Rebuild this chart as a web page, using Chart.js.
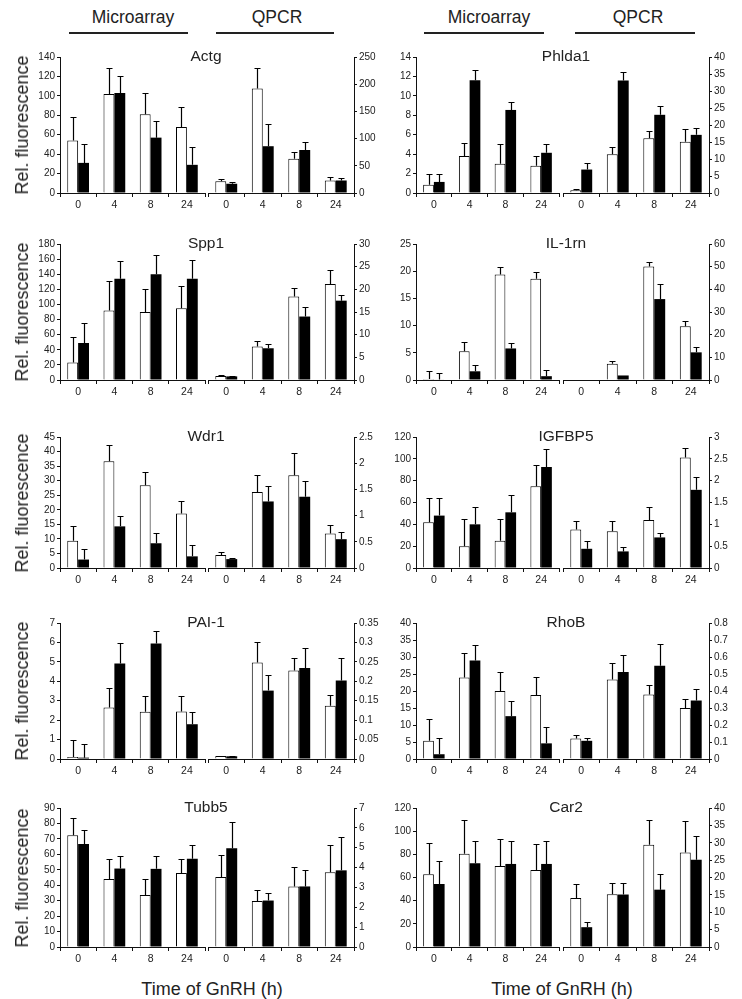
<!DOCTYPE html>
<html><head><meta charset="utf-8">
<script src="https://cdn.jsdelivr.net/npm/chart.js@4.4.1/dist/chart.umd.min.js"></script>
<style>
html,body{margin:0;padding:0;background:#fff;}
body{width:742px;height:999px;position:relative;overflow:hidden;font-family:"Liberation Sans", Arial, sans-serif;color:#222;}
.lbl{position:absolute;white-space:nowrap;transform:translate(-50%,-50%);line-height:1;}
.rot{position:absolute;white-space:nowrap;transform:translate(-50%,-50%) rotate(-90deg);line-height:1;}
.rule{position:absolute;height:2px;background:#222;}
canvas{position:absolute;}
</style></head><body>
<script>
// ---------------- DATA ----------------
const times = ['0', '4', '8', '24'];

// Actg
const actgMicroWhite = [54, 102, 81, 68];
const actgMicroWhiteErr = [24, 27, 22, 21];
const actgMicroBlack = [31, 103, 57, 29];
const actgMicroBlackErr = [19, 17, 17.5, 18];
const actgQpcrWhite = [21.5, 192, 63, 23];
const actgQpcrWhiteErr = [5, 37, 12, 6];
const actgQpcrBlack = [17, 86, 79, 23];
const actgQpcrBlackErr = [2.5, 40, 14, 5];
const actgMicroTicks = [0, 20, 40, 60, 80, 100, 120, 140];
const actgQpcrTicks = [0, 50, 100, 150, 200, 250];

// Phlda1
const phldaMicroWhite = [0.86, 3.8, 3.0, 2.8];
const phldaMicroWhiteErr = [1.14, 1.3, 2.0, 1.03];
const phldaMicroBlack = [1.14, 11.6, 8.55, 4.14];
const phldaMicroBlackErr = [0.86, 1.1, 0.83, 0.86];
const phldaQpcrWhite = [0.8, 11.4, 16.1, 15.1];
const phldaQpcrWhiteErr = [0.3, 2, 2.2, 3.7];
const phldaQpcrBlack = [6.9, 33.1, 23.0, 17.1];
const phldaQpcrBlackErr = [2, 2.6, 2.7, 1.9];
const phldaMicroTicks = [0, 2, 4, 6, 8, 10, 12, 14];
const phldaQpcrTicks = [0, 5, 10, 15, 20, 25, 30, 35, 40];

// Spp1
const sppMicroWhite = [23, 92, 90, 95];
const sppMicroWhiteErr = [34, 39, 30.5, 29.6];
const sppMicroBlack = [49, 134, 140, 134];
const sppMicroBlackErr = [26.5, 24, 25.7, 25];
const sppQpcrWhite = [0.9, 7.4, 18.4, 21.2];
const sppQpcrWhiteErr = [0.1, 1.25, 1.85, 3.0];
const sppQpcrBlack = [0.8, 7.0, 14.0, 17.5];
const sppQpcrBlackErr = [0.1, 0.9, 2.2, 1.25];
const sppMicroTicks = [0, 20, 40, 60, 80, 100, 120, 140, 160, 180];
const sppQpcrTicks = [0, 5, 10, 15, 20, 25, 30];

// IL-1rn
const il1MicroWhite = [0.2, 5.3, 19.4, 18.6];
const il1MicroWhiteErr = [1.4, 1.65, 1.35, 1.2];
const il1MicroBlack = [0.1, 1.6, 5.8, 0.7];
const il1MicroBlackErr = [1.2, 1.2, 1.0, 1.1];
const il1QpcrWhite = [0, 7.2, 50.1, 23.7];
const il1QpcrWhiteErr = [0, 1.0, 2.0, 2.2];
const il1QpcrBlack = [0, 2.0, 35.7, 12.2];
const il1QpcrBlackErr = [0, 0, 6.6, 2.5];
const il1MicroTicks = [0, 5, 10, 15, 20, 25];
const il1QpcrTicks = [0, 10, 20, 30, 40, 50, 60];

// Wdr1
const wdrMicroWhite = [9.4, 36.7, 28.4, 18.7];
const wdrMicroWhiteErr = [4.9, 5.7, 4.6, 4.3];
const wdrMicroBlack = [2.9, 14.3, 8.5, 4.0];
const wdrMicroBlackErr = [3.7, 3.5, 3.4, 3.8];
const wdrQpcrWhite = [0.25, 1.45, 1.77, 0.66];
const wdrQpcrWhiteErr = [0.06, 0.32, 0.43, 0.16];
const wdrQpcrBlack = [0.17, 1.27, 1.36, 0.55];
const wdrQpcrBlackErr = [0.03, 0.29, 0.3, 0.14];
const wdrMicroTicks = [0, 5, 10, 15, 20, 25, 30, 35, 40, 45];
const wdrQpcrTicks = [0, 0.5, 1, 1.5, 2, 2.5];

// IGFBP5
const igfMicroWhite = [42, 20, 25, 75];
const igfMicroWhiteErr = [22, 24.5, 20, 19];
const igfMicroBlack = [48, 40, 51, 92.5];
const igfMicroBlackErr = [16.5, 15.6, 15.6, 16.2];
const igfQpcrWhite = [0.88, 0.84, 1.1, 2.53];
const igfQpcrWhiteErr = [0.19, 0.23, 0.29, 0.21];
const igfQpcrBlack = [0.44, 0.38, 0.7, 1.79];
const igfQpcrBlackErr = [0.175, 0.09, 0.11, 0.29];
const igfMicroTicks = [0, 20, 40, 60, 80, 100, 120];
const igfQpcrTicks = [0, 0.5, 1, 1.5, 2, 2.5, 3];

// PAI-1
const paiMicroWhite = [0.1, 2.65, 2.43, 2.44];
const paiMicroWhiteErr = [0.88, 0.98, 0.79, 0.78];
const paiMicroBlack = [0.07, 4.92, 5.95, 1.79];
const paiMicroBlackErr = [0.7, 1.05, 0.62, 0.65];
const paiQpcrWhite = [0.008, 0.2485, 0.228, 0.137];
const paiQpcrWhiteErr = [0.001, 0.0525, 0.031, 0.0275];
const paiQpcrBlack = [0.007, 0.176, 0.234, 0.202];
const paiQpcrBlackErr = [0.001, 0.04, 0.052, 0.058];
const paiMicroTicks = [0, 1, 2, 3, 4, 5, 6, 7];
const paiQpcrTicks = [0, 0.05, 0.1, 0.15, 0.2, 0.25, 0.3, 0.35];

// RhoB
const rhobMicroWhite = [5.4, 24.0, 20.0, 18.8];
const rhobMicroWhiteErr = [6.4, 7.3, 5.6, 5.4];
const rhobMicroBlack = [1.4, 29.0, 12.6, 4.6];
const rhobMicroBlackErr = [4.9, 4.5, 4.6, 4.7];
const rhobQpcrWhite = [0.12, 0.468, 0.379, 0.30];
const rhobQpcrWhiteErr = [0.02, 0.095, 0.059, 0.055];
const rhobQpcrBlack = [0.107, 0.512, 0.549, 0.344];
const rhobQpcrBlackErr = [0.016, 0.1, 0.128, 0.065];
const rhobMicroTicks = [0, 5, 10, 15, 20, 25, 30, 35, 40];
const rhobQpcrTicks = [0, 0.1, 0.2, 0.3, 0.4, 0.5, 0.6, 0.7, 0.8];

// Tubb5
const tubbMicroWhite = [72.3, 44.0, 33.6, 47.9];
const tubbMicroWhiteErr = [11.4, 13.3, 10.4, 9.4];
const tubbMicroBlack = [66.7, 50.8, 50.6, 57.1];
const tubbMicroBlackErr = [8.9, 8, 8.2, 8.7];
const tubbQpcrWhite = [3.53, 2.32, 3.05, 3.76];
const tubbQpcrWhiteErr = [1.08, 0.56, 0.98, 1.36];
const tubbQpcrBlack = [4.97, 2.34, 3.05, 3.86];
const tubbQpcrBlackErr = [1.3, 0.37, 0.85, 1.68];
const tubbMicroTicks = [0, 10, 20, 30, 40, 50, 60, 70, 80, 90];
const tubbQpcrTicks = [0, 1, 2, 3, 4, 5, 6, 7];

// Car2
const car2MicroWhite = [62.8, 80.4, 70, 66.5];
const car2MicroWhiteErr = [26.9, 29.5, 23.4, 22.6];
const car2MicroBlack = [54.4, 72.3, 71.7, 71.7];
const car2MicroBlackErr = [20.2, 18.8, 19.4, 19.4];
const car2QpcrWhite = [14.1, 15.2, 29.4, 27.2];
const car2QpcrWhiteErr = [3.95, 3.3, 7.2, 9];
const car2QpcrBlack = [5.7, 15.1, 16.5, 25.1];
const car2QpcrBlackErr = [1.54, 3.37, 4.4, 6.9];
const car2MicroTicks = [0, 20, 40, 60, 80, 100, 120];
const car2QpcrTicks = [0, 5, 10, 15, 20, 25, 30, 35, 40];

const geneNames = ['Actg', 'Phlda1', 'Spp1', 'IL-1rn', 'Wdr1', 'IGFBP5', 'PAI-1', 'RhoB', 'Tubb5', 'Car2'];
const methodLabels = ['Microarray', 'QPCR'];
const yAxisTitle = 'Rel. fluorescence';
const xAxisTitle = 'Time of GnRH (h)';

// ---------------- LAYOUT ----------------
const rowTops = [57, 244, 437, 623, 808];
const rowBottoms = [193, 380, 568, 759, 947];
const cols = [
  { micro: [60, 205], qpcr: [208, 354], titleX: 206 },
  { micro: [416, 559], qpcr: [563, 709], titleX: 566 }
];

const panels = [
  [actgMicroWhite, actgMicroWhiteErr, actgMicroBlack, actgMicroBlackErr, actgMicroTicks, actgQpcrWhite, actgQpcrWhiteErr, actgQpcrBlack, actgQpcrBlackErr, actgQpcrTicks],
  [phldaMicroWhite, phldaMicroWhiteErr, phldaMicroBlack, phldaMicroBlackErr, phldaMicroTicks, phldaQpcrWhite, phldaQpcrWhiteErr, phldaQpcrBlack, phldaQpcrBlackErr, phldaQpcrTicks],
  [sppMicroWhite, sppMicroWhiteErr, sppMicroBlack, sppMicroBlackErr, sppMicroTicks, sppQpcrWhite, sppQpcrWhiteErr, sppQpcrBlack, sppQpcrBlackErr, sppQpcrTicks],
  [il1MicroWhite, il1MicroWhiteErr, il1MicroBlack, il1MicroBlackErr, il1MicroTicks, il1QpcrWhite, il1QpcrWhiteErr, il1QpcrBlack, il1QpcrBlackErr, il1QpcrTicks],
  [wdrMicroWhite, wdrMicroWhiteErr, wdrMicroBlack, wdrMicroBlackErr, wdrMicroTicks, wdrQpcrWhite, wdrQpcrWhiteErr, wdrQpcrBlack, wdrQpcrBlackErr, wdrQpcrTicks],
  [igfMicroWhite, igfMicroWhiteErr, igfMicroBlack, igfMicroBlackErr, igfMicroTicks, igfQpcrWhite, igfQpcrWhiteErr, igfQpcrBlack, igfQpcrBlackErr, igfQpcrTicks],
  [paiMicroWhite, paiMicroWhiteErr, paiMicroBlack, paiMicroBlackErr, paiMicroTicks, paiQpcrWhite, paiQpcrWhiteErr, paiQpcrBlack, paiQpcrBlackErr, paiQpcrTicks],
  [rhobMicroWhite, rhobMicroWhiteErr, rhobMicroBlack, rhobMicroBlackErr, rhobMicroTicks, rhobQpcrWhite, rhobQpcrWhiteErr, rhobQpcrBlack, rhobQpcrBlackErr, rhobQpcrTicks],
  [tubbMicroWhite, tubbMicroWhiteErr, tubbMicroBlack, tubbMicroBlackErr, tubbMicroTicks, tubbQpcrWhite, tubbQpcrWhiteErr, tubbQpcrBlack, tubbQpcrBlackErr, tubbQpcrTicks],
  [car2MicroWhite, car2MicroWhiteErr, car2MicroBlack, car2MicroBlackErr, car2MicroTicks, car2QpcrWhite, car2QpcrWhiteErr, car2QpcrBlack, car2QpcrBlackErr, car2QpcrTicks]
];

// ---------------- DRAW ----------------
Chart.defaults.font.family = '"Liberation Sans", Arial, sans-serif';
Chart.defaults.color = '#222';

const errorBarPlugin = {
  id: 'errorBars',
  afterDatasetsDraw(chart) {
    const ctx = chart.ctx;
    ctx.save();
    ctx.strokeStyle = '#000';
    ctx.lineWidth = 1.2;
    chart.data.datasets.forEach((ds, i) => {
      const meta = chart.getDatasetMeta(i);
      const ys = chart.scales[meta.yAxisID];
      meta.data.forEach((bar, j) => {
        const e = ds.errors[j];
        if (!e) return;
        const top = Math.round(ys.getPixelForValue(ds.data[j] + e)) + 0.5;
        const x = Math.round(bar.x) + 0.5;
        ctx.beginPath();
        ctx.moveTo(x, bar.y);
        ctx.lineTo(x, top);
        ctx.moveTo(x - 3, top);
        ctx.lineTo(x + 3, top);
        ctx.stroke();
      });
    });
    ctx.restore();
  }
};

const AX = 40, PT = 8, PB = 22, PS = 3;

function fmt(v) { return String(Math.round(v * 1000) / 1000); }

function makeChart(x0, x1, yTop, yBot, side, w, we, b, be, ticks) {
  const cv = document.createElement('canvas');
  const width = (x1 - x0) + AX + PS;
  const height = (yBot - yTop) + PT + PB;
  cv.width = width; cv.height = height;
  cv.style.width = width + 'px'; cv.style.height = height + 'px';
  cv.style.left = (side === 'left' ? x0 - AX : x0 - PS) + 'px';
  cv.style.top = (yTop - PT) + 'px';
  document.body.appendChild(cv);
  new Chart(cv, {
    type: 'bar',
    data: {
      labels: times,
      datasets: [
        { data: w, errors: we, backgroundColor: '#fff', borderColor: '#000', borderWidth: 1, yAxisID: 'y' },
        { data: b, errors: be, backgroundColor: '#000', borderColor: '#000', borderWidth: 0, yAxisID: 'y' }
      ]
    },
    options: {
      responsive: false, animation: false, devicePixelRatio: 1,
      categoryPercentage: 0.6, barPercentage: 1.0,
      layout: { padding: side === 'left' ? { top: PT, right: PS, left: 0, bottom: 0 } : { top: PT, left: PS, right: 0, bottom: 0 } },
      plugins: { legend: { display: false }, tooltip: { enabled: false } },
      scales: {
        x: {
          grid: { display: true, drawOnChartArea: false, drawTicks: true, tickLength: 4, color: '#111', offset: true },
          border: { display: true, color: '#111', width: 1 },
          ticks: { font: { size: 10.5 }, padding: 2, maxRotation: 0, autoSkip: false, color: '#222' },
          afterFit: (s) => { s.height = PB; }
        },
        y: {
          position: side, min: 0, max: ticks[ticks.length - 1],
          grid: { display: true, drawOnChartArea: false, drawTicks: true, tickLength: 3, color: '#111' },
          border: { display: true, color: '#111', width: 1 },
          ticks: { font: { size: 10 }, padding: 2, autoSkip: false, color: '#222', callback: fmt },
          afterBuildTicks: (s) => { s.ticks = ticks.map(v => ({ value: v })); },
          afterFit: (s) => { s.width = AX; }
        }
      }
    },
    plugins: [errorBarPlugin]
  });
}

function addLabel(text, x, y, size, cls) {
  const d = document.createElement('div');
  d.className = cls || 'lbl';
  d.textContent = text;
  d.style.left = x + 'px'; d.style.top = y + 'px';
  d.style.fontSize = size + 'px';
  document.body.appendChild(d);
}
function addRule(x0, x1, y) {
  const d = document.createElement('div');
  d.className = 'rule';
  d.style.left = x0 + 'px'; d.style.top = y + 'px'; d.style.width = (x1 - x0) + 'px';
  document.body.appendChild(d);
}

// headers
addLabel(methodLabels[0], 133, 18, 17.5); addRule(69, 188, 32);
addLabel(methodLabels[1], 277, 18, 17.5); addRule(216, 334, 32);
addLabel(methodLabels[0], 489, 18, 17.5); addRule(424, 544, 32);
addLabel(methodLabels[1], 638, 18, 17.5); addRule(575, 695, 32);

panels.forEach((p, k) => {
  const col = cols[k % 2];
  const row = Math.floor(k / 2);
  const yT = rowTops[row], yB = rowBottoms[row];
  makeChart(col.micro[0], col.micro[1], yT, yB, 'left', p[0], p[1], p[2], p[3], p[4]);
  makeChart(col.qpcr[0], col.qpcr[1], yT, yB, 'right', p[5], p[6], p[7], p[8], p[9]);
  addLabel(geneNames[k], col.titleX, yT - 1, 15.5);
  if (k % 2 === 0) addLabel(yAxisTitle, 22, (yT + yB) / 2, 18, 'rot');
});

addLabel(xAxisTitle, 212, 989, 18);
addLabel(xAxisTitle, 562, 989, 18);
</script>
</body></html>
